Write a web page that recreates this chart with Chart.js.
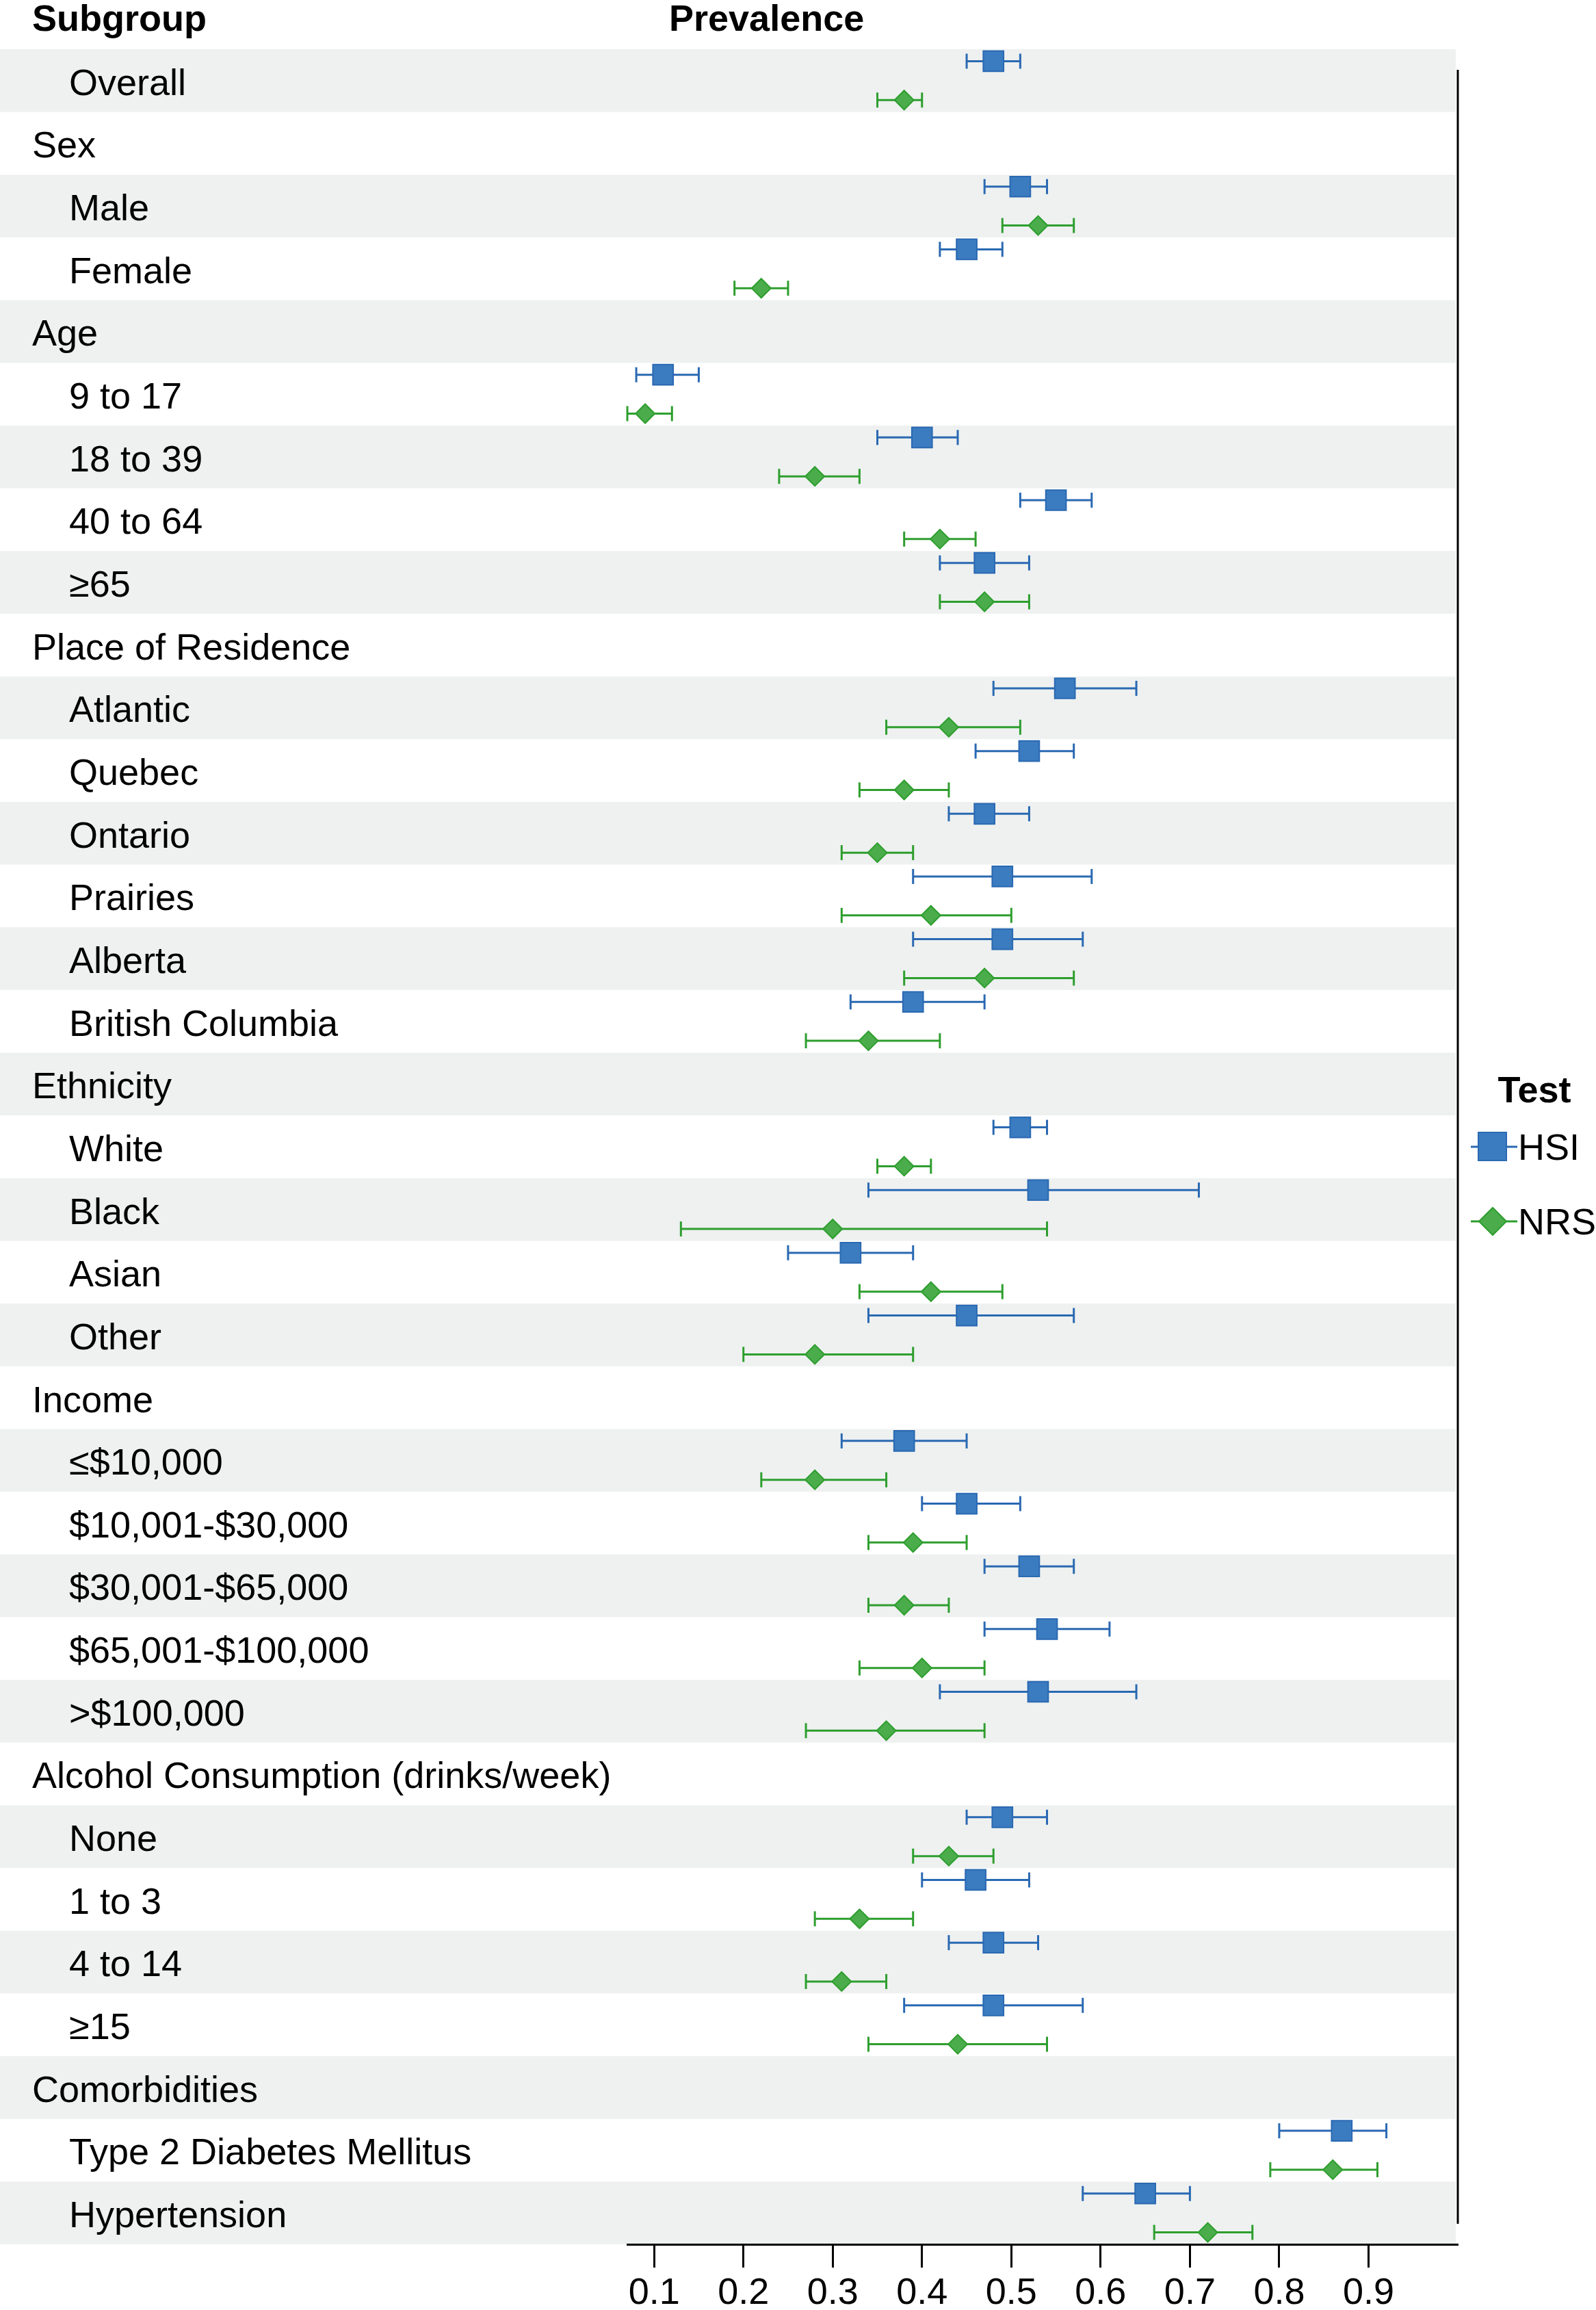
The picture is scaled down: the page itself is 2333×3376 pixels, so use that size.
<!DOCTYPE html>
<html>
<head>
<meta charset="utf-8">
<script src="https://cdn.jsdelivr.net/npm/chart.js@4.4.1/dist/chart.umd.min.js"></script>
<style>
    html, body { margin: 0; padding: 0; background: #ffffff; }
    canvas { display: block; }
</style>
</head>
<body>
<canvas id="forestChart" width="2333" height="3376"></canvas>
<script>
// Subgroups, top to bottom
const rowLabels = [
    "Overall", "Sex", "Male", "Female", "Age", "9 to 17", "18 to 39", "40 to 64", "\u226565",
    "Place of Residence", "Atlantic", "Quebec", "Ontario", "Prairies", "Alberta", "British Columbia",
    "Ethnicity", "White", "Black", "Asian", "Other",
    "Income", "\u2264$10,000", "$10,001-$30,000", "$30,001-$65,000", "$65,001-$100,000", ">$100,000",
    "Alcohol Consumption (drinks/week)", "None", "1 to 3", "4 to 14", "\u226515",
    "Comorbidities", "Type 2 Diabetes Mellitus", "Hypertension"
];
const groupRows = ["Sex", "Age", "Place of Residence", "Ethnicity", "Income",
    "Alcohol Consumption (drinks/week)", "Comorbidities"];

// HSI prevalence with 95% CI
const hsiEst  = [0.48, null, 0.51, 0.45, null, 0.11, 0.40, 0.55, 0.47, null, 0.56, 0.52, 0.47, 0.49, 0.49, 0.39, null, 0.51, 0.53, 0.32, 0.45, null, 0.38, 0.45, 0.52, 0.54, 0.53, null, 0.49, 0.46, 0.48, 0.48, null, 0.87, 0.65];
const hsiLow  = [0.45, null, 0.47, 0.42, null, 0.08, 0.35, 0.51, 0.42, null, 0.48, 0.46, 0.43, 0.39, 0.39, 0.32, null, 0.48, 0.34, 0.25, 0.34, null, 0.31, 0.40, 0.47, 0.47, 0.42, null, 0.45, 0.40, 0.43, 0.38, null, 0.80, 0.58];
const hsiHigh = [0.51, null, 0.54, 0.49, null, 0.15, 0.44, 0.59, 0.52, null, 0.64, 0.57, 0.52, 0.59, 0.58, 0.47, null, 0.54, 0.71, 0.39, 0.57, null, 0.45, 0.51, 0.57, 0.61, 0.64, null, 0.54, 0.52, 0.53, 0.58, null, 0.92, 0.70];

// NRS prevalence with 95% CI
const nrsEst  = [0.38, null, 0.53, 0.22, null, 0.09, 0.28, 0.42, 0.47, null, 0.43, 0.38, 0.35, 0.41, 0.47, 0.34, null, 0.38, 0.30, 0.41, 0.28, null, 0.28, 0.39, 0.38, 0.40, 0.36, null, 0.43, 0.33, 0.31, 0.44, null, 0.86, 0.72];
const nrsLow  = [0.35, null, 0.49, 0.19, null, 0.07, 0.24, 0.38, 0.42, null, 0.36, 0.33, 0.31, 0.31, 0.38, 0.27, null, 0.35, 0.13, 0.33, 0.20, null, 0.22, 0.34, 0.34, 0.33, 0.27, null, 0.39, 0.28, 0.27, 0.34, null, 0.79, 0.66];
const nrsHigh = [0.40, null, 0.57, 0.25, null, 0.12, 0.33, 0.46, 0.52, null, 0.51, 0.43, 0.39, 0.50, 0.57, 0.42, null, 0.41, 0.54, 0.49, 0.39, null, 0.36, 0.45, 0.43, 0.47, 0.47, null, 0.48, 0.39, 0.36, 0.54, null, 0.91, 0.77];

const xTicks = [0.1, 0.2, 0.3, 0.4, 0.5, 0.6, 0.7, 0.8, 0.9];

const FONT = "'Liberation Sans', Arial, sans-serif";
const hsiFill = "#3b7bbf", hsiLine = "#2a69b2";
const nrsFill = "#4aac4a", nrsLine = "#2e9e2e";
const bandColor = "#eef1f0";
const rowShift = 0.31;

// build marker points and error bar segments for one series
function points(est, shift) {
    const out = [];
    est.forEach((v, i) => { if (v !== null) out.push({ x: v, y: i + shift }); });
    return out;
}
function segments(low, high, shift) {
    const out = [];
    low.forEach((v, i) => {
        if (v === null) return;
        out.push({ x: v, y: i + shift }, { x: high[i], y: i + shift }, { x: null, y: null });
    });
    return out;
}

const forestDecor = {
    id: "forestDecor",
    beforeDraw(chart) {
        const { ctx, chartArea, scales: { y } } = chart;
        ctx.save();
        ctx.fillStyle = bandColor;
        rowLabels.forEach((_, i) => {
            if (i % 2) return;
            const top = y.getPixelForValue(i - 0.5);
            const bottom = y.getPixelForValue(i + 0.5);
            ctx.fillRect(0, top, chartArea.right - 3, bottom - top);
        });
        ctx.restore();
    },
    afterDraw(chart) {
        const { ctx, chartArea } = chart;
        ctx.save();
        // column headers
        ctx.fillStyle = "#000";
        ctx.font = "bold 54px " + FONT;
        ctx.textBaseline = "alphabetic";
        ctx.textAlign = "left";
        ctx.fillText("Subgroup", 47, 45);
        ctx.fillText("Prevalence", 978, 45);

        // right frame line
        ctx.strokeStyle = "#000";
        ctx.lineWidth = 3;
        ctx.beginPath();
        ctx.moveTo(chartArea.right, chartArea.top + 30);
        ctx.lineTo(chartArea.right, chartArea.bottom - 30);
        ctx.stroke();

        // legend
        const lx = chartArea.right;
        ctx.textAlign = "center";
        ctx.textBaseline = "middle";
        ctx.font = "bold 54px " + FONT;
        ctx.fillText("Test", lx + 112, 1596);

        ctx.font = "54px " + FONT;
        ctx.textAlign = "left";
        // HSI
        ctx.strokeStyle = hsiLine;
        ctx.lineWidth = 3;
        ctx.beginPath();
        ctx.moveTo(lx + 19, 1676);
        ctx.lineTo(lx + 87, 1676);
        ctx.stroke();
        ctx.fillStyle = hsiFill;
        ctx.fillRect(lx + 30, 1655, 41, 41);
        ctx.lineWidth = 2;
        ctx.strokeRect(lx + 30, 1655, 41, 41);
        ctx.fillStyle = "#000";
        ctx.fillText("HSI", lx + 88, 1680);
        // NRS
        ctx.strokeStyle = nrsLine;
        ctx.lineWidth = 3;
        ctx.beginPath();
        ctx.moveTo(lx + 19, 1785);
        ctx.lineTo(lx + 87, 1785);
        ctx.stroke();
        ctx.fillStyle = nrsFill;
        ctx.lineWidth = 2;
        ctx.beginPath();
        ctx.moveTo(lx + 31, 1785);
        ctx.lineTo(lx + 51, 1765);
        ctx.lineTo(lx + 71, 1785);
        ctx.lineTo(lx + 51, 1805);
        ctx.closePath();
        ctx.fill();
        ctx.stroke();
        ctx.fillStyle = "#000";
        ctx.fillText("NRS", lx + 88, 1789);
        ctx.restore();
    }
};

const ctx = document.getElementById("forestChart").getContext("2d");
new Chart(ctx, {
    type: "scatter",
    data: {
        datasets: [
            {
                label: "HSI",
                data: points(hsiEst, -rowShift),
                pointStyle: "rect",
                pointRadius: 21,
                backgroundColor: hsiFill,
                borderColor: hsiLine,
                borderWidth: 2,
                clip: false
            },
            {
                label: "NRS",
                data: points(nrsEst, rowShift),
                pointStyle: "rectRot",
                pointRadius: 14,
                backgroundColor: nrsFill,
                borderColor: nrsLine,
                borderWidth: 2,
                clip: false
            },
            {
                label: "HSI CI",
                type: "line",
                data: segments(hsiLow, hsiHigh, -rowShift),
                borderColor: hsiLine,
                borderWidth: 3,
                spanGaps: false,
                pointStyle: "line",
                rotation: 90,
                pointRadius: 11,
                pointBorderColor: hsiLine,
                pointBorderWidth: 3,
                clip: false
            },
            {
                label: "NRS CI",
                type: "line",
                data: segments(nrsLow, nrsHigh, rowShift),
                borderColor: nrsLine,
                borderWidth: 3,
                spanGaps: false,
                pointStyle: "line",
                rotation: 90,
                pointRadius: 11,
                pointBorderColor: nrsLine,
                pointBorderWidth: 3,
                clip: false
            }
        ]
    },
    options: {
        responsive: false,
        devicePixelRatio: 1,
        animation: false,
        layout: { padding: { left: 47, top: 72, right: 202, bottom: 0 } },
        plugins: {
            legend: { display: false },
            tooltip: { enabled: false }
        },
        scales: {
            x: {
                type: "linear",
                position: "bottom",
                min: 0.07,
                max: 1.0,
                afterBuildTicks: scale => { scale.ticks = xTicks.map(v => ({ value: v })); },
                afterFit: scale => { scale.height = 96; },
                grid: {
                    drawOnChartArea: false,
                    drawTicks: true,
                    tickLength: 34,
                    tickColor: "#000",
                    tickWidth: 3
                },
                border: { display: true, color: "#000", width: 3 },
                ticks: {
                    padding: 6,
                    color: "#000",
                    font: { family: FONT, size: 54 },
                    callback: v => v.toFixed(1)
                }
            },
            y: {
                type: "linear",
                reverse: true,
                min: -0.5,
                max: rowLabels.length - 0.5,
                afterBuildTicks: scale => { scale.ticks = rowLabels.map((_, i) => ({ value: i })); },
                afterFit: scale => { scale.width = 870; },
                grid: { display: false },
                border: { display: false },
                ticks: {
                    autoSkip: false,
                    crossAlign: "far",
                    labelOffset: 6,
                    color: "#000",
                    font: { family: FONT, size: 54 },
                    callback: v => {
                        const name = rowLabels[v];
                        return groupRows.includes(name) ? name : "\u2002\u2002" + name;
                    }
                }
            }
        }
    },
    plugins: [forestDecor]
});
</script>
</body>
</html>
